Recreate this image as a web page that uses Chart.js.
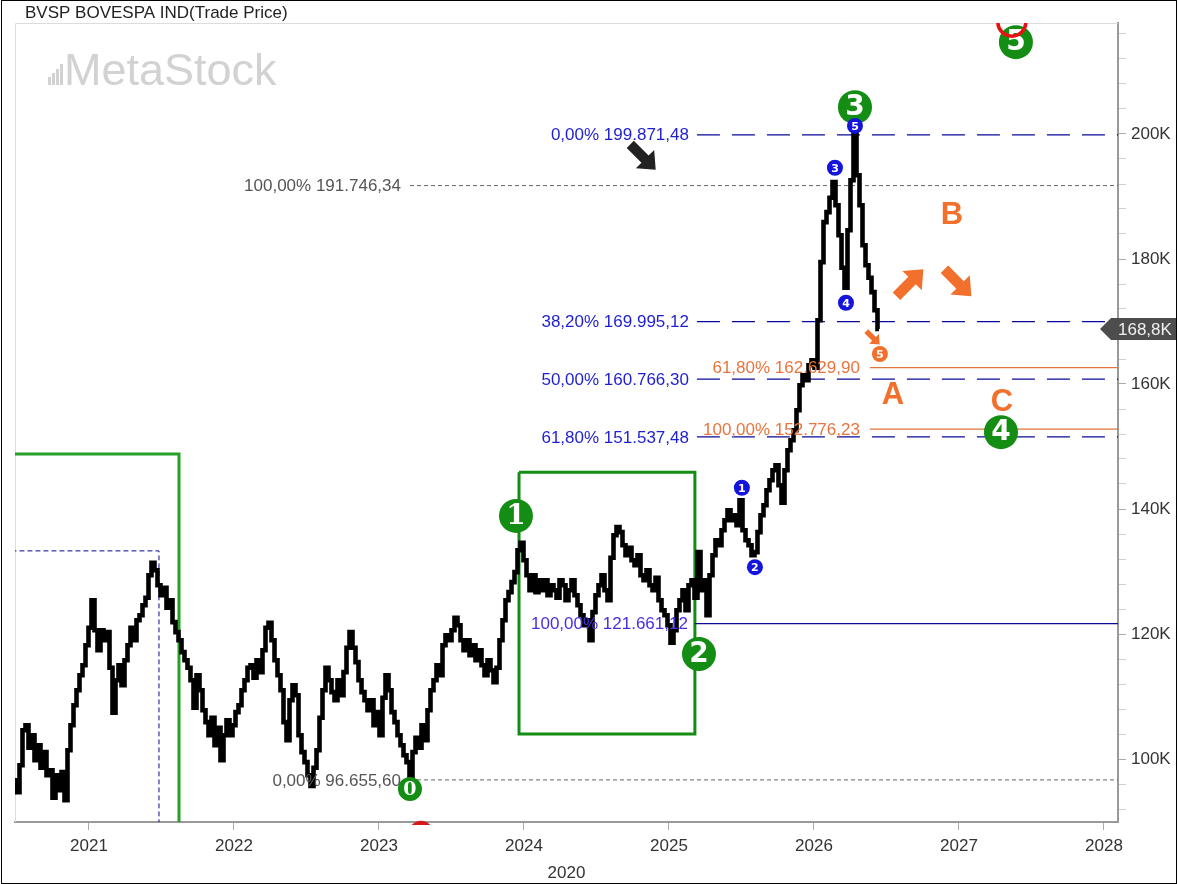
<!DOCTYPE html>
<html>
<head>
<meta charset="utf-8">
<script src="https://cdn.jsdelivr.net/npm/chart.js@4.4.1/dist/chart.umd.min.js"></script>
<style>
  html, body { margin: 0; padding: 0; background: #fff; }
  #wrap { width: 1179px; height: 884px; }
</style>
</head>
<body>
<div id="wrap"><canvas id="chart"></canvas></div>
<script>
// BVSP semanal (milhares de pontos)
const weekStart = 2020.49;     // primeira barra
const weekStep = 0.02069;      // ~7,5 dias por barra
const closeK = [
  96.6, 94.7, 99.0, 104.6, 105.4, 101.8, 103.8, 99.8, 102.2, 98.6,
  101.1, 97.4, 98.2, 93.8, 97.4, 95.0, 97.9, 93.4, 101.4, 105.4,
  108.6, 111.0, 113.4, 115.0, 118.2, 121.0, 125.4, 120.6, 117.4, 120.6,
  119.0, 120.3, 114.6, 107.4, 112.6, 115.0, 111.8, 115.8, 118.2, 121.0,
  119.0, 122.2, 123.0, 124.6, 125.8, 129.4, 131.4, 130.2, 127.8, 126.2,
  127.4, 124.2, 125.4, 121.9, 120.3, 119.0, 117.1, 115.8, 114.6, 112.6,
  108.2, 113.4, 111.0, 107.8, 105.9, 103.8, 106.6, 102.2, 105.0, 99.8,
  103.8, 106.2, 103.8, 105.4, 107.5, 108.6, 111.0, 112.6, 114.6, 115.0,
  113.0, 115.8, 113.9, 117.4, 121.0, 121.8, 119.0, 115.8, 113.4, 111.0,
  105.9, 103.0, 109.4, 111.8, 110.2, 103.8, 101.1, 99.5, 97.4, 95.7,
  98.6, 101.4, 106.6, 111.0, 114.6, 112.6, 110.7, 109.4, 112.6, 110.2,
  113.9, 117.8, 120.3, 117.8, 115.5, 112.6, 110.7, 109.4, 107.8, 109.4,
  105.4, 107.5, 103.8, 109.8, 113.4, 111.0, 107.5, 105.9, 103.8, 102.2,
  100.6, 99.5, 96.7, 101.1, 103.4, 101.8, 105.4, 103.0, 107.8, 111.0,
  112.6, 115.0, 113.4, 118.2, 119.8, 119.0, 120.6, 122.6, 121.4, 119.0,
  117.4, 119.0, 116.6, 118.2, 115.8, 117.4, 115.0, 113.4, 115.8, 114.2,
  112.3, 114.6, 119.0, 122.2, 125.4, 126.7, 128.3, 129.9, 133.4, 134.6,
  131.8, 129.4, 127.0, 129.4, 126.7, 128.6, 127.0, 128.6, 126.2, 127.8,
  127.0, 125.8, 128.6, 127.8, 125.4, 127.0, 128.6, 126.2, 124.6, 123.0,
  121.4, 122.2, 119.0, 123.5, 126.2, 127.8, 129.4, 127.0, 125.4, 132.2,
  135.8, 137.1, 136.3, 134.2, 132.6, 133.8, 131.8, 131.0, 132.6, 129.4,
  128.6, 130.2, 127.8, 127.0, 129.0, 125.4, 123.8, 123.0, 121.4, 118.6,
  120.6, 123.8, 125.4, 127.0, 123.8, 127.8, 128.6, 125.8, 133.1, 127.0,
  128.6, 123.0, 129.4, 132.6, 135.0, 134.2, 136.6, 138.2, 139.8, 138.2,
  139.0, 137.4, 141.4, 136.6, 135.0, 134.2, 132.6, 133.1, 136.3, 139.0,
  140.6, 143.0, 144.6, 146.2, 147.0, 143.8, 141.0, 146.2, 149.4, 151.0,
  152.6, 155.8, 159.8, 161.4, 160.6, 163.0, 163.8, 162.6, 170.2, 179.5,
  185.9, 187.5, 189.8, 192.3, 188.6, 183.8, 178.6, 175.4, 184.6, 192.6,
  199.9, 193.4, 188.6, 182.2, 179.0, 177.0, 174.7, 171.8, 168.8
];
const lastPriceK = 168.8;

// eixos
const yearTicks = [2021, 2022, 2023, 2024, 2025, 2026, 2027, 2028];
const yTicksK = [92, 96, 100, 104, 108, 112, 116, 120, 124, 128, 132, 136, 140, 144, 148, 152,
  156, 160, 164, 168, 172, 176, 180, 184, 188, 192, 196, 200, 204, 208, 212, 216];

// Fibonacci (azul) - retração da onda 3
const fibBlueLevels = [199.87148, 169.99512, 160.76630, 151.53748];
const fibBlueLabels = ['0,00% 199.871,48', '38,20% 169.995,12', '50,00% 160.766,30', '61,80% 151.537,48'];
const fibBaseLevel = 121.66112;
const fibBaseLabel = '100,00% 121.661,12';
// Fibonacci (cinza)
const fibGreyLevels = [191.74634, 96.65560];
const fibGreyLabels = ['100,00% 191.746,34', '0,00% 96.655,60'];
// Fibonacci (laranja) - alvo da onda A
const fibOrangeLevels = [162.62990, 152.77623];
const fibOrangeLabels = ['61,80% 162.629,90', '100,00% 152.776,23'];

// início das linhas (ano)
const fibBlueFrom = 2025.193, fibBaseFrom = 2025.179, fibGreyFrom = 2023.214, fibOrangeFrom = 2026.386;
const xMin = 2020.49, xMax = 2028.097, yMin = 89.92, yMax = 217.76;

const priceSeries = closeK.map((v, i) => ({ x: weekStart + i * weekStep, y: v }));

function hLine(from, level, color, dash, width) {
  return {
    data: [{ x: from, y: level }, { x: xMax + 0.2, y: level }],
    borderColor: color, borderDash: dash, borderWidth: width, order: 2
  };
}
function path(pts, color, dash, width) {
  return { data: pts.map(p => ({ x: p[0], y: p[1] })), borderColor: color, borderDash: dash, borderWidth: width, order: 2 };
}

const datasets = [
  { data: priceSeries, borderColor: '#000', borderWidth: 4.6, order: 0, stepped: 'middle', borderJoinStyle: 'miter', borderCapStyle: 'butt' },
  ...fibBlueLevels.map(l => hLine(fibBlueFrom, l, '#0a0a9a', [23, 12], 1.2)),
  hLine(fibBaseFrom, fibBaseLevel, '#0a0a9a', [], 1.2),
  ...fibGreyLevels.map(l => hLine(fibGreyFrom, l, '#666', [4, 3], 1)),
  ...fibOrangeLevels.map(l => hLine(fibOrangeFrom, l, '#e2743e', [], 1.2)),
  path([[2020.3, 148.8], [2021.621, 148.8], [2021.621, 80]], '#26a026', [], 3),
  path([[2020.3, 133.3], [2021.483, 133.3], [2021.483, 80]], '#0a0a9a', [5, 3], 1),
  path([[2023.966, 145.9], [2025.179, 145.9], [2025.179, 104.0], [2023.966, 104.0], [2023.966, 145.9]], '#138d13', [], 3)
];

// rótulos de Elliott (ano, preço)
const waves = [
  { t: '1', x: 2023.945, y: 138.9, kind: 'big' },
  { t: '2', x: 2025.207, y: 116.8, kind: 'big' },
  { t: '3', x: 2026.283, y: 204.3, kind: 'big' },
  { t: '4', x: 2027.290, y: 152.3, kind: 'big' },
  { t: '5', x: 2027.393, y: 214.7, kind: 'big' },
  { t: '0', x: 2023.214, y: 95.2, kind: 'zero' },
  { t: '1', x: 2025.503, y: 143.4, kind: 'blue' },
  { t: '2', x: 2025.593, y: 130.7, kind: 'blue' },
  { t: '3', x: 2026.145, y: 194.6, kind: 'blue' },
  { t: '4', x: 2026.221, y: 173.0, kind: 'blue' },
  { t: '5', x: 2026.283, y: 201.3, kind: 'blue' },
  { t: '5', x: 2026.455, y: 164.8, kind: 'orange' }
];
const letters = [
  { t: 'B', x: 2026.952, y: 187.0 },
  { t: 'A', x: 2026.545, y: 158.1 },
  { t: 'C', x: 2027.297, y: 157.0 }
];
const arrows = [
  { x: 2024.821, y: 196.3, len: 36, ang: Math.PI / 4, color: '#222' },
  { x: 2026.662, y: 176.2, len: 38, ang: -Math.PI / 4, color: '#f26f2c' },
  { x: 2026.993, y: 176.2, len: 38, ang: Math.PI / 4, color: '#f26f2c' },
  { x: 2026.407, y: 167.4, len: 19, ang: Math.PI / 4, color: '#f26f2c' }
];

const FONT = '"Liberation Sans", Arial, sans-serif';

function drawArrow(ctx, cx, cy, len, ang, color) {
  ctx.save();
  ctx.translate(cx, cy);
  ctx.rotate(ang);
  const L = len / 2, sw = len * 0.14, hw = len * 0.36, hl = len * 0.42;
  ctx.beginPath();
  ctx.moveTo(-L, -sw); ctx.lineTo(L - hl, -sw); ctx.lineTo(L - hl, -hw);
  ctx.lineTo(L, 0); ctx.lineTo(L - hl, hw); ctx.lineTo(L - hl, sw); ctx.lineTo(-L, sw);
  ctx.closePath();
  ctx.fillStyle = color;
  ctx.fill();
  ctx.restore();
}

function badge(ctx, x, y, r, fill, text, font, color) {
  ctx.beginPath();
  ctx.arc(x, y, r, 0, Math.PI * 2);
  ctx.fillStyle = fill;
  ctx.fill();
  ctx.fillStyle = color || '#fff';
  ctx.font = font;
  ctx.textAlign = 'center';
  ctx.textBaseline = 'middle';
  ctx.fillText(text, x, y + 1);
}

const overlay = {
  id: 'overlay',
  beforeDatasetsDraw(chart) {
    const ctx = chart.ctx, a = chart.chartArea;
    ctx.save();
    // moldura da área de plotagem
    ctx.strokeStyle = '#dcdcdc';
    ctx.lineWidth = 1;
    ctx.beginPath();
    ctx.moveTo(a.left + 0.5, a.bottom); ctx.lineTo(a.left + 0.5, a.top + 0.5); ctx.lineTo(a.right, a.top + 0.5);
    ctx.stroke();
    // marca d'água
    ctx.fillStyle = '#d2d2d2';
    [8, 12, 16, 21].forEach((h, i) => ctx.fillRect(48 + i * 4, 85 - h, 3, h));
    ctx.font = '45px ' + FONT;
    ctx.textAlign = 'left';
    ctx.textBaseline = 'alphabetic';
    ctx.fillText('MetaStock', 64, 85);
    ctx.restore();
  },
  afterDatasetsDraw(chart) {
    const ctx = chart.ctx, a = chart.chartArea;
    const xs = chart.scales.x, ys = chart.scales.y;
    const px = v => xs.getPixelForValue(v), py = v => ys.getPixelForValue(v);
    ctx.save();
    ctx.font = '17px ' + FONT;
    ctx.textAlign = 'right';
    ctx.textBaseline = 'middle';
    ctx.fillStyle = '#1e1ed2';
    fibBlueLevels.forEach((l, i) => ctx.fillText(fibBlueLabels[i], px(fibBlueFrom) - 8, py(l) + 1));
    ctx.fillStyle = '#4a2ee0';
    ctx.fillText(fibBaseLabel, px(fibBaseFrom) - 7, py(fibBaseLevel) + 1);
    ctx.fillStyle = '#555';
    fibGreyLevels.forEach((l, i) => ctx.fillText(fibGreyLabels[i], px(fibGreyFrom) - 9, py(l) + 1));
    ctx.fillStyle = '#e8743e';
    fibOrangeLevels.forEach((l, i) => ctx.fillText(fibOrangeLabels[i], px(fibOrangeFrom) - 10, py(l) + 1));

    arrows.forEach(r => drawArrow(ctx, px(r.x), py(r.y), r.len, r.ang, r.color));

    ctx.font = 'bold 31px ' + FONT;
    ctx.textAlign = 'center';
    ctx.textBaseline = 'middle';
    ctx.fillStyle = '#f26f2c';
    letters.forEach(l => ctx.fillText(l.t, px(l.x), py(l.y)));

    waves.forEach(w => {
      const x = px(w.x), y = py(w.y);
      if (w.kind === 'big') {
        const f = w.t === '1' ? 'bold 28px "DejaVu Serif", serif' : 'bold 28px "DejaVu Sans", sans-serif';
        badge(ctx, x, y, 17, '#138d13', w.t, f);
      } else if (w.kind === 'zero') {
        badge(ctx, x, y, 12, '#138d13', w.t, 'bold 19px "DejaVu Serif", serif');
      } else if (w.kind === 'blue') {
        badge(ctx, x, y, 8, '#1414dc', w.t, 'bold 11px "DejaVu Sans", sans-serif');
      } else {
        badge(ctx, x, y, 8, '#f26f2c', w.t, 'bold 11px "DejaVu Sans", sans-serif');
      }
    });

    // círculos vermelhos parcialmente fora da área
    ctx.save();
    ctx.beginPath();
    ctx.rect(a.left, a.top, a.right - a.left, a.bottom - a.top + 3);
    ctx.clip();
    ctx.strokeStyle = '#e81010';
    ctx.lineWidth = 3.5;
    ctx.beginPath();
    ctx.arc(px(2027.365), py(217.9), 14, 0, Math.PI * 2);
    ctx.stroke();
    ctx.fillStyle = '#d81818';
    ctx.beginPath();
    ctx.arc(px(2023.29), py(88.2), 12, 0, Math.PI * 2);
    ctx.fill();
    ctx.restore();
    ctx.restore();
  },
  afterDraw(chart) {
    const ctx = chart.ctx, a = chart.chartArea;
    const yLast = chart.scales.y.getPixelForValue(lastPriceK);
    ctx.save();
    // título
    ctx.fillStyle = '#222';
    ctx.font = '17px ' + FONT;
    ctx.textAlign = 'left';
    ctx.textBaseline = 'middle';
    ctx.fillText('BVSP BOVESPA IND(Trade Price)', 25, 13);
    // etiqueta do último preço
    ctx.fillStyle = '#4d4d4d';
    ctx.beginPath();
    ctx.moveTo(a.right - 18, yLast);
    ctx.lineTo(a.right - 7, yLast - 11);
    ctx.lineTo(1177, yLast - 11);
    ctx.lineTo(1177, yLast + 11);
    ctx.lineTo(a.right - 7, yLast + 11);
    ctx.closePath();
    ctx.fill();
    ctx.fillStyle = '#f0f0f0';
    ctx.fillText('168,8K', a.right, yLast + 1);
    // borda externa
    ctx.strokeStyle = '#000';
    ctx.lineWidth = 1;
    ctx.strokeRect(1.5, 0.5, 1175, 883);
    ctx.restore();
  }
};

new Chart(document.getElementById('chart'), {
  type: 'line',
  data: { datasets },
  options: {
    responsive: true,
    maintainAspectRatio: false,
    animation: false,
    events: [],
    layout: { padding: { left: 15, top: 23, right: 0, bottom: 0 } },
    elements: { point: { radius: 0 }, line: { tension: 0 } },
    plugins: { legend: { display: false }, tooltip: { enabled: false } },
    scales: {
      x: {
        type: 'linear', min: xMin, max: xMax,
        afterBuildTicks: s => { s.ticks = yearTicks.map(v => ({ value: v })); },
        afterFit: s => { s.height = 62; },
        grid: { drawOnChartArea: false, tickLength: 8, color: '#aaa' },
        border: { color: '#999', width: 2 },
        ticks: { color: '#333', font: { size: 17, family: FONT }, padding: 6, maxRotation: 0, callback: v => String(v) },
        title: { display: true, text: '2020', color: '#333', font: { size: 17, family: FONT }, padding: { top: 0, bottom: 0 } }
      },
      y: {
        position: 'right', min: yMin, max: yMax,
        afterBuildTicks: s => { s.ticks = yTicksK.map(v => ({ value: v })); },
        afterFit: s => { s.width = 61; },
        grid: { drawOnChartArea: false, tickLength: 8, color: c => (c.tick && c.tick.value % 20 === 0) ? '#aaa' : '#d0d0d0' },
        border: { color: '#999', width: 2 },
        ticks: { color: '#333', font: { size: 17, family: FONT }, padding: 5, autoSkip: false,
          callback: v => (v % 20 === 0 ? v + 'K' : '') }
      }
    }
  },
  plugins: [overlay]
});
</script>
</body>
</html>
